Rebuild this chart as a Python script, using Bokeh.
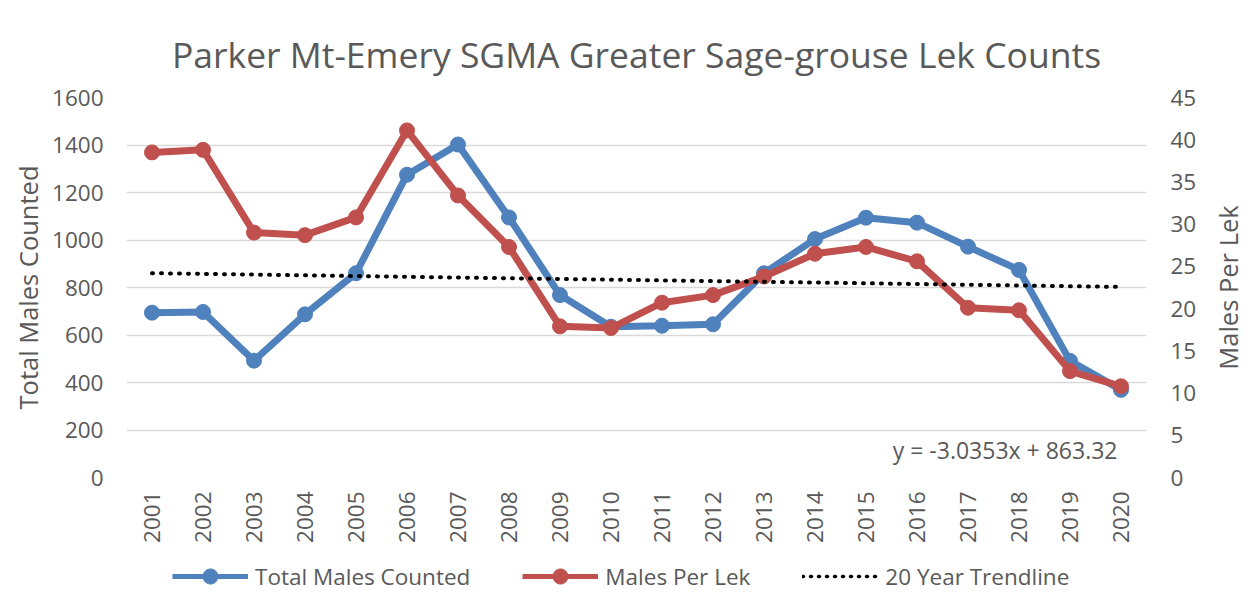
import math
from bokeh.plotting import figure
from bokeh.layouts import column, row
from bokeh.models import (Range1d, LinearAxis, Legend, LegendItem, FactorRange,
                          Label, SingleIntervalTicker, ColumnDataSource)
from bokeh.embed import file_html
from bokeh.resources import INLINE

# ---- data ----
years = ["2001", "2002", "2003", "2004", "2005", "2006", "2007", "2008", "2009", "2010",
         "2011", "2012", "2013", "2014", "2015", "2016", "2017", "2018", "2019", "2020"]
total_males = [694, 697, 492, 687, 860, 1275, 1402, 1095, 768, 635,
               639, 645, 860, 1004, 1094, 1073, 972, 874, 491, 369]
males_per_lek = [38.5, 38.8, 29.0, 28.7, 30.8, 41.1, 33.4, 27.3, 17.9, 17.7,
                 20.7, 21.6, 23.8, 26.5, 27.3, 25.6, 20.1, 19.8, 12.6, 10.8]
trend_slope = -3.0353
trend_intercept = 863.32
trend_values = [trend_intercept + trend_slope * (i + 1) for i in range(len(years))]

FONT = "Open Sans"
GRAY = "#595959"
BLUE = "#4F81BD"
RED = "#C0504D"

src = ColumnDataSource(dict(year=years, total=total_males, per_lek=males_per_lek, trend=trend_values))

p = figure(width=1205, height=550, output_backend="svg", toolbar_location=None,
           x_range=FactorRange(*years, range_padding=0), y_range=Range1d(0, 1600),
           frame_width=1020, frame_height=380,
           min_border_left=126, min_border_right=59, min_border_top=97, min_border_bottom=73,
           title="Parker Mt-Emery SGMA Greater Sage-grouse Lek Counts")
p.extra_y_ranges = {"right": Range1d(0, 45)}
p.outline_line_color = None

p.title.text_font = FONT
p.title.text_font_size = "35.5px"
p.title.text_font_style = "normal"
p.title.text_color = GRAY
p.title.align = "center"
p.title.standoff = 39

# grid
p.xgrid.grid_line_color = None
p.ygrid.grid_line_color = "#D9D9D9"
p.ygrid.grid_line_width = 1.5


def style_axis(ax):
    ax.axis_line_color = None
    ax.major_tick_line_color = None
    ax.minor_tick_line_color = None
    ax.major_tick_out = 0
    ax.major_tick_in = 0
    ax.minor_tick_out = 0
    ax.major_label_text_font = FONT
    ax.major_label_text_font_size = "22.5px"
    ax.major_label_text_color = GRAY
    ax.axis_label_text_font = FONT
    ax.axis_label_text_font_size = "25.5px"
    ax.axis_label_text_font_style = "normal"
    ax.axis_label_text_color = GRAY


yax = p.yaxis[0]
yax.ticker = SingleIntervalTicker(interval=200)
yax.axis_label = "Total Males Counted"
style_axis(yax)
yax.major_label_standoff = 23
yax.axis_label_standoff = 4

rax = LinearAxis(y_range_name="right", ticker=SingleIntervalTicker(interval=5))
style_axis(rax)
rax.major_label_standoff = 24
p.add_layout(rax, "right")

xax = p.xaxis[0]
style_axis(xax)
xax.major_label_orientation = math.pi / 2
xax.major_label_standoff = 14

# series
bl = p.line("year", "total", source=src, line_color=BLUE, line_width=7)
bs = p.scatter("year", "total", source=src, size=15, fill_color=BLUE, line_color=BLUE)
rl = p.line("year", "per_lek", source=src, line_color=RED, line_width=7, y_range_name="right")
rs = p.scatter("year", "per_lek", source=src, size=15, fill_color=RED, line_color=RED,
               y_range_name="right")
tl = p.line("year", "trend", source=src, line_color="black", line_width=4,
            line_dash="1 8", line_cap="round")

eq = Label(x=991, y=28, x_units="screen", y_units="screen",
           text=f"y = {trend_slope}x + {trend_intercept}",
           text_font=FONT, text_font_size="23px", text_color=GRAY,
           text_align="right", text_baseline="middle")
p.add_layout(eq)

# ---- legend strip below the chart (frames are aligned with the chart above) ----
lg = figure(width=1205, height=49, output_backend="svg", toolbar_location=None,
            x_range=Range1d(0, 1), y_range=Range1d(0, 1),
            x_axis_type=None, y_axis_type=None,
            min_border_left=0, min_border_right=0, min_border_top=0, min_border_bottom=0)
lg.outline_line_color = None
lg.xgrid.grid_line_color = None
lg.ygrid.grid_line_color = None
# off-range placeholder point so the legend has glyphs to sample
dummy = ColumnDataSource(dict(x=[-5], y=[-5]))
lbl = lg.line("x", "y", source=dummy, line_color=BLUE, line_width=5)
lbs = lg.scatter("x", "y", source=dummy, size=15, fill_color=BLUE, line_color=BLUE)
lrl = lg.line("x", "y", source=dummy, line_color=RED, line_width=5)
lrs = lg.scatter("x", "y", source=dummy, size=15, fill_color=RED, line_color=RED)
ltl = lg.line("x", "y", source=dummy, line_color="black", line_width=3.5,
              line_dash="1 7", line_cap="round")

legend = Legend(items=[
    LegendItem(label="Total Males Counted", renderers=[lbl, lbs]),
    LegendItem(label="Males Per Lek", renderers=[lrl, lrs]),
    LegendItem(label="20 Year Trendline", renderers=[ltl]),
], orientation="horizontal", location=(46, 4))
legend.label_text_font = FONT
legend.label_text_font_size = "22.5px"
legend.label_text_color = GRAY
legend.glyph_width = 76
legend.glyph_height = 38
legend.label_standoff = 7
legend.spacing = 52
legend.padding = 0
legend.margin = 0
legend.border_line_color = None
legend.background_fill_alpha = 0
lg.add_layout(legend)

# ---- narrow strip at the right carrying the right-axis title (bottom-to-top) ----
side = figure(width=47, height=550, output_backend="svg", toolbar_location=None,
              x_range=Range1d(0, 1), y_range=Range1d(0, 1),
              x_axis_type=None, y_axis_type=None,
              min_border_left=0, min_border_right=0, min_border_top=97, min_border_bottom=73)
side.outline_line_color = None
side.xgrid.grid_line_color = None
side.ygrid.grid_line_color = None
side.add_layout(Label(x=22, y=190, x_units="screen", y_units="screen", angle=math.pi / 2,
                      text="Males Per Lek", text_font=FONT, text_font_size="25.5px",
                      text_color=GRAY, text_align="center", text_baseline="alphabetic"))

layout = row(column(p, lg, spacing=0), side, spacing=0)
open("out.html", "w").write(file_html(layout, INLINE))
